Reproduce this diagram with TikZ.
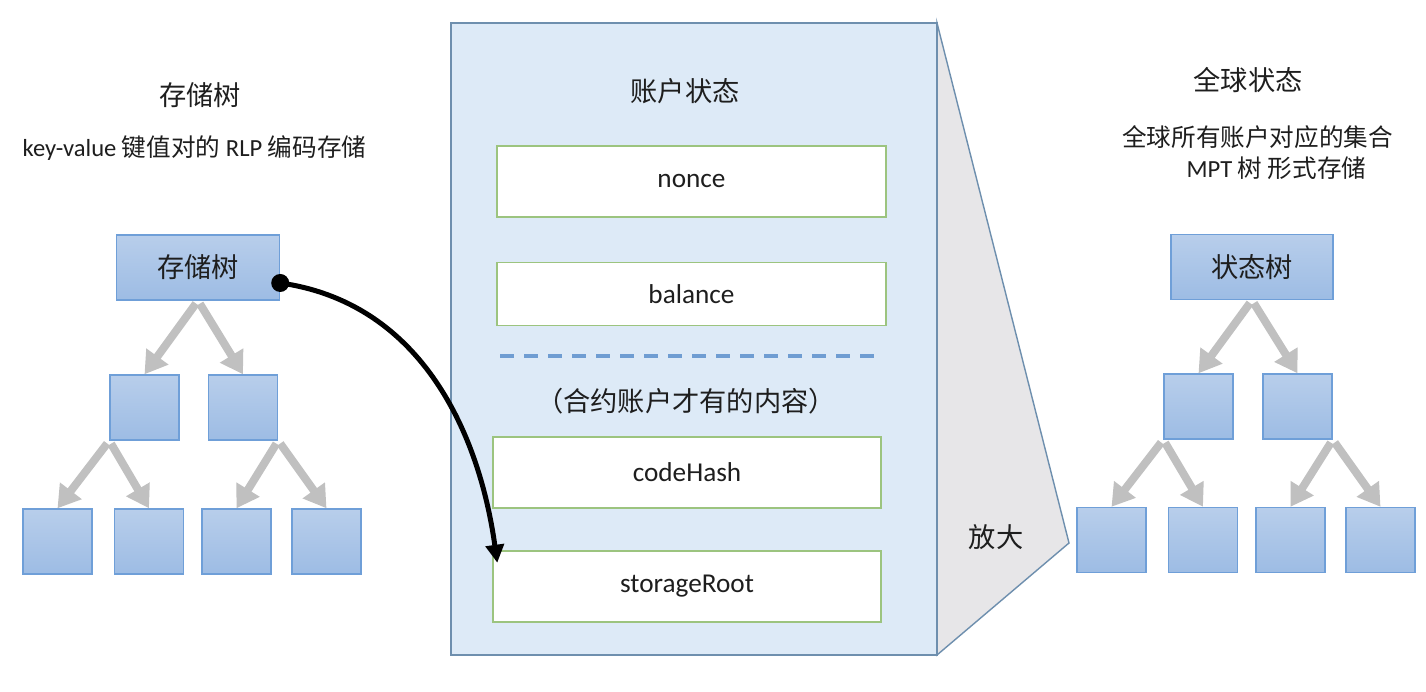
\documentclass[tikz,border=0pt]{standalone}
\usepackage{fontspec}
\setmainfont{Carlito}
\newfontfamily\cjk{Noto Sans CJK SC}
\usetikzlibrary{arrows.meta,calc}
\definecolor{txt}{HTML}{1E1E1E}
\definecolor{boxtop}{HTML}{B8CEEB}
\definecolor{boxbot}{HTML}{9DBCE4}
\definecolor{boxline}{HTML}{6F9FD8}
\definecolor{branchgray}{HTML}{C0C0C0}
\definecolor{panelfill}{HTML}{DDEAF7}
\definecolor{panelline}{HTML}{6E8FAE}
\definecolor{zoomfill}{HTML}{E7E6E8}
\definecolor{fieldline}{HTML}{9CC47F}
\definecolor{sepblue}{HTML}{6F9DD2}
\newcommand{\bigtxt}{\fontsize{15.5}{18}\selectfont}
\newcommand{\subtxt}{\fontsize{14}{16}\selectfont}
\tikzset{
  treebox/.style={draw=boxline,line width=0.8pt,top color=boxtop,bottom color=boxbot,minimum width=1.38cm,minimum height=1.3cm,inner sep=0pt},
  rootbox/.style={treebox,minimum width=3.26cm,font=\cjk\bigtxt},
  field/.style={draw=fieldline,fill=white,line width=0.8pt,minimum width=7.78cm,minimum height=1.42cm,inner sep=0pt,font=\bigtxt},
  branch/.style={draw=branchgray,line width=0.16cm,shorten <=2pt,-{Triangle[width=0.52cm,length=0.44cm]}},
  link/.style={draw=black,line width=0.1cm,-{Triangle[width=0.36cm,length=0.36cm]}},
  heading/.style={font=\cjk\bigtxt}
}
\begin{document}
\begin{tikzpicture}[text=txt]
\useasboundingbox (0,0) rectangle (28.52,13.84);
\fill[white] (0,0) rectangle (28.52,13.84);
\node[heading] (ltitle) at (4.0,11.94) {存储树};
\node[font=\subtxt] (lsub) at (3.89,10.88) {key-value {\cjk 键值对的} RLP {\cjk 编码存储}};
\node[rootbox] (ls) at (3.96,8.49) {存储树};
\node[treebox] (ls1) at (2.89,5.69) {};\node[treebox] (ls2) at (4.86,5.69) {};
\node[treebox] (ls11) at (1.15,3.01) {};\node[treebox] (ls12) at (2.98,3.01) {};
\node[treebox] (ls21) at (4.73,3.01) {};\node[treebox] (ls22) at (6.53,3.01) {};
\draw[branch] (ls.south) -- (ls1.north);\draw[branch] (ls.south) -- (ls2.north);
\draw[branch] (ls1.south west) -- (ls11.north);\draw[branch] (ls1.south west) -- (ls12.north);
\draw[branch] (ls2.south east) -- (ls21.north);\draw[branch] (ls2.south east) -- (ls22.north);
\filldraw[fill=zoomfill,draw=panelline,line width=0.8pt] (18.74,13.38)--(21.38,2.98)--(18.74,0.74)--cycle;
\filldraw[fill=panelfill,draw=panelline,line width=0.8pt] (9.02,0.74) rectangle (18.74,13.38);
\node[heading] (zoom) at (19.92,3.1) {放大};
\node[heading] (acct) at (13.7,12.02) {账户状态};
\node[field] (nonce) at (13.83,10.21) {nonce};
\node[field,minimum height=1.26cm] (bal) at (13.83,7.96) {balance};
\draw[sepblue,line width=2.2pt,dash pattern=on 0.28cm off 0.2cm] (10.0,6.72)--(17.64,6.72);
\node[heading] (note) at (13.72,5.82) {（合约账户才有的内容）};
\node[field,minimum width=7.76cm] (code) at (13.74,4.39) {codeHash};
\node[field,minimum width=7.76cm] (sroot) at (13.74,2.11) {storageRoot};
\coordinate (lk) at ($(ls.east)+(0,-0.31)$);
\coordinate (lktip) at ($(sroot.north west)+(0.1,-0.25)$);
\fill (lk) circle (0.18);
\draw[link] (lk) to[out=-8,in=98] (lktip);
\node[heading] (rtitle) at (24.96,12.24) {全球状态};
\node[font=\cjk\subtxt] (rsub) at (25.15,11.1) {全球所有账户对应的集合};
\node[font=\cjk\subtxt] (rsub2) at (25.53,10.48) {{\rmfamily MPT} 树 形式存储};
\node[rootbox,minimum width=3.24cm] (rs) at (25.04,8.5) {状态树};
\node[treebox] (rs1) at (23.97,5.71) {};\node[treebox] (rs2) at (25.95,5.71) {};
\node[treebox] (rs11) at (22.23,3.04) {};\node[treebox] (rs12) at (24.06,3.04) {};
\node[treebox] (rs21) at (25.81,3.04) {};\node[treebox] (rs22) at (27.61,3.04) {};
\draw[branch] (rs.south) -- (rs1.north);\draw[branch] (rs.south) -- (rs2.north);
\draw[branch] (rs1.south west) -- (rs11.north);\draw[branch] (rs1.south west) -- (rs12.north);
\draw[branch] (rs2.south east) -- (rs21.north);\draw[branch] (rs2.south east) -- (rs22.north);
\end{tikzpicture}
\end{document}
